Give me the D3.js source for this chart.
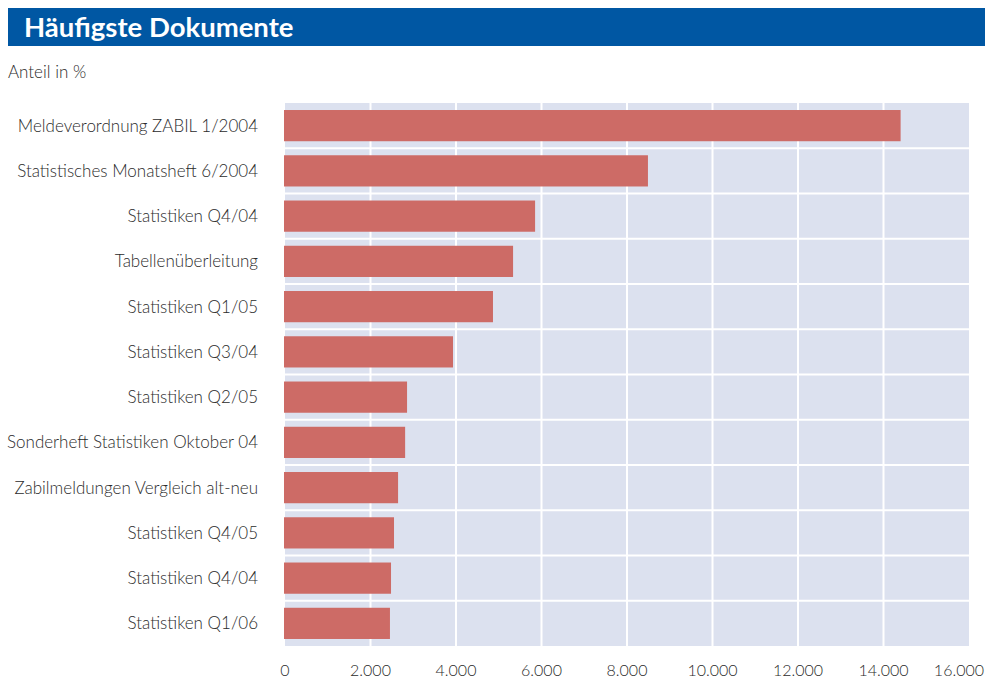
<!DOCTYPE html>
<html>
<head>
<meta charset="utf-8">
<script src="https://cdn.jsdelivr.net/npm/d3@7"></script>
<style>
  body { margin: 0; background: #fff; }
  svg { display: block; }
</style>
</head>
<body>
<svg id="canvas" width="987" height="680"></svg>
<script>
let titleText = 'Häufigste Dokumente'
let unitText = 'Anteil in %'

let documents = [
    'Meldeverordnung ZABIL 1/2004',
    'Statistisches Monatsheft 6/2004',
    'Statistiken Q4/04',
    'Tabellenüberleitung',
    'Statistiken Q1/05',
    'Statistiken Q3/04',
    'Statistiken Q2/05',
    'Sonderheft Statistiken Oktober 04',
    'Zabilmeldungen Vergleich alt-neu',
    'Statistiken Q4/05',
    'Statistiken Q4/04',
    'Statistiken Q1/06'
]
let values = [14400, 8490, 5850, 5335, 4865, 3930, 2855, 2810, 2645, 2550, 2480, 2455]
let ticks = [0, 2000, 4000, 6000, 8000, 10000, 12000, 14000, 16000]

let canvas = d3.select('#canvas')

let plotLeft = 285, plotRight = 969, plotTop = 103, plotBottom = 646

let xScale = d3.scaleLinear().domain([0, 16000]).range([plotLeft, plotRight])
let yScale = d3.scaleBand().domain(d3.range(documents.length)).range([plotTop, plotBottom]).paddingInner(0.31).paddingOuter(0.155)
let bandScale = d3.scaleBand().domain(d3.range(documents.length)).range([plotTop, plotBottom])

let fmt = d3.formatLocale({decimal: ',', thousands: '.', grouping: [3], currency: ['', '']}).format(',d')

// title bar
canvas.append('rect')
    .attr('x', 8).attr('y', 8).attr('width', 977).attr('height', 38)
    .attr('fill', '#0057a3')
canvas.append('text')
    .text(titleText)
    .attr('x', 24).attr('y', 37)
    .attr('fill', 'white')
    .style('font-family', 'Lato, "Open Sans", sans-serif')
    .style('font-weight', 'bold')
    .style('font-size', '27.5px')

canvas.append('text')
    .text(unitText)
    .attr('x', 8).attr('y', 78)
    .attr('fill', '#2b2b2b')
    .style('font-family', 'Lato, sans-serif')
    .style('font-weight', 300)
    .style('font-size', '17px')

// plot background
canvas.append('rect')
    .attr('x', plotLeft).attr('y', plotTop)
    .attr('width', plotRight - plotLeft).attr('height', plotBottom - plotTop)
    .attr('fill', '#dce1ef')

canvas.selectAll('.vgrid')
    .data(ticks.slice(1, -1))
    .enter()
    .append('line')
    .attr('class', 'vgrid')
    .attr('x1', (d) => xScale(d)).attr('x2', (d) => xScale(d))
    .attr('y1', plotTop).attr('y2', plotBottom)
    .attr('stroke', 'white').attr('stroke-width', 2)

canvas.selectAll('.hgrid')
    .data(d3.range(1, documents.length))
    .enter()
    .append('line')
    .attr('class', 'hgrid')
    .attr('x1', plotLeft).attr('x2', plotRight)
    .attr('y1', (d) => bandScale(d)).attr('y2', (d) => bandScale(d))
    .attr('stroke', 'white').attr('stroke-width', 2)

// bars
canvas.selectAll('.bar')
    .data(values)
    .enter()
    .append('rect')
    .attr('class', 'bar')
    .attr('x', xScale(0) - 1)
    .attr('y', (d, i) => yScale(i))
    .attr('width', (d) => xScale(d) - xScale(0) + 1)
    .attr('height', yScale.bandwidth())
    .attr('fill', '#cd6b66')

// category labels
canvas.selectAll('.cat')
    .data(documents)
    .enter()
    .append('text')
    .attr('class', 'cat')
    .text((d) => d)
    .attr('x', 258)
    .attr('y', (d, i) => bandScale(i) + bandScale.bandwidth() / 2)
    .attr('dy', '0.35em')
    .attr('text-anchor', 'end')
    .attr('fill', '#2b2b2b')
    .style('font-family', 'Lato, sans-serif')
    .style('font-weight', 300)
    .style('font-size', '17px')

// x tick labels (last one pulled inside the page edge)
canvas.selectAll('.tick')
    .data(ticks)
    .enter()
    .append('text')
    .attr('class', 'tick')
    .text((d) => fmt(d))
    .attr('x', (d, i) => i === ticks.length - 1 ? 984 : xScale(d))
    .attr('y', 676)
    .attr('text-anchor', (d, i) => i === ticks.length - 1 ? 'end' : 'middle')
    .attr('fill', '#2b2b2b')
    .style('font-family', 'Lato, sans-serif')
    .style('font-weight', 300)
    .style('font-size', '16px')
</script>
</body>
</html>
